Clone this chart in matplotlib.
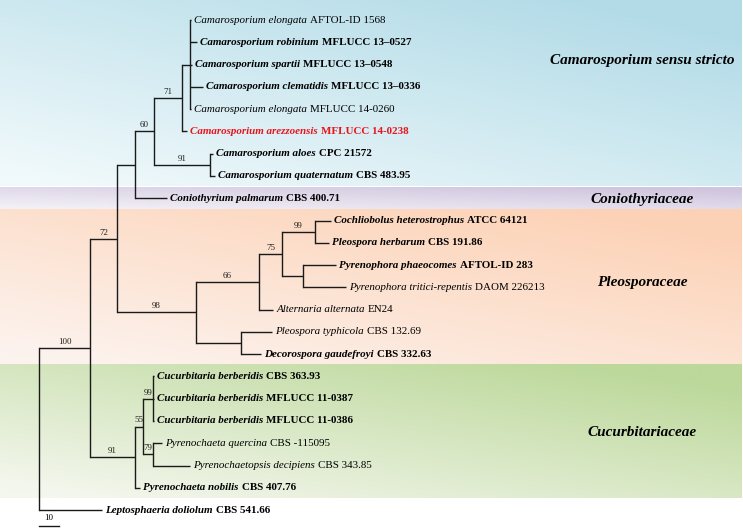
import numpy as np
import matplotlib.pyplot as plt
from matplotlib.colors import to_rgb

plt.rcParams['font.family'] = ['Liberation Serif', 'DejaVu Serif']

# tree (branch lengths, support values as node names)
newick = ("(((((((t1:0.5,t2:3.5,t3:1,t4:6.5,t5:0.5):4,t6:2.5)71:14,(t7:1.5,t8:2.5)91:28)60:9.5,t9:16):9,"
          "((((t10:8,t11:7)99:16.5,(t12:16.5,t13:21.5):10.5)75:11.5,t14:7)66:31.5,(t15:15.5,t16:10):22.5)98:39.5)72:13.5,"
          "(((t17:0.5,t18:0.5,t19:0.5)99:5,(t20:4.5,t21:18.5)79:5)55:4,t22:2.5)91:22.5)100:25.5,t23:31.5);")

species = ['Camarosporium elongata', 'Camarosporium robinium', 'Camarosporium spartii',
           'Camarosporium clematidis', 'Camarosporium elongata', 'Camarosporium arezzoensis',
           'Camarosporium aloes', 'Camarosporium quaternatum', 'Coniothyrium palmarum',
           'Cochliobolus heterostrophus', 'Pleospora herbarum', 'Pyrenophora phaeocomes',
           'Pyrenophora tritici-repentis', 'Alternaria alternata', 'Pleospora typhicola',
           'Decorospora gaudefroyi', 'Cucurbitaria berberidis', 'Cucurbitaria berberidis',
           'Cucurbitaria berberidis', 'Pyrenochaeta quercina', 'Pyrenochaetopsis decipiens',
           'Pyrenochaeta nobilis', 'Leptosphaeria doliolum']
strains = ['AFTOL-ID 1568', 'MFLUCC 13\u20130527', 'MFLUCC 13\u20130548', 'MFLUCC 13\u20130336',
           'MFLUCC 14-0260', 'MFLUCC 14-0238', 'CPC 21572', 'CBS 483.95', 'CBS 400.71',
           'ATCC 64121', 'CBS 191.86', 'AFTOL-ID 283', 'DAOM 226213', 'EN24', 'CBS 132.69',
           'CBS 332.63', 'CBS 363.93', 'MFLUCC 11-0387', 'MFLUCC 11-0386', 'CBS -115095',
           'CBS 343.85', 'CBS 407.76', 'CBS 541.66']
bold = [0, 1, 1, 1, 0, 1, 1, 1, 1, 1, 1, 1, 0, 0, 0, 1, 1, 1, 1, 0, 0, 1, 1]
highlight = 5  # new species, in red

groups = ['Camarosporium sensu stricto', 'Coniothyriaceae', 'Pleosporaceae', 'Cucurbitariaceae']
group_spans = [(-0.9, 7.47), (7.55, 8.5), (8.5, 15.45), (15.45, 21.45)]
group_label_y = [1.8, 8.05, 11.8, 18.5]
group_dark = ['#b2dbe7', '#d0c6df', '#fcd2b6', '#bcd89a']
group_light = ['#f0f9fb', '#f3f0f6', '#fdf3ee', '#f4f7ee']


def parse(s):
    s = s.replace(' ', '')
    pos = 0

    def node():
        nonlocal pos
        kids = []
        if s[pos] == '(':
            pos += 1
            while True:
                kids.append(node())
                if s[pos] == ',':
                    pos += 1
                else:
                    break
            pos += 1
        start = pos
        while s[pos] not in ',();':
            pos += 1
        name, _, bl = s[start:pos].partition(':')
        return {'name': name, 'bl': float(bl or 0), 'kids': kids}
    return node()


tree = parse(newick)
leaves = []


def layout(n, x0):
    n['x'] = x0 + n['bl']
    if n['kids']:
        for k in n['kids']:
            layout(k, n['x'])
        n['y'] = (n['kids'][0]['y'] + n['kids'][-1]['y']) / 2
    else:
        n['y'] = len(leaves)
        leaves.append(n)


layout(tree, 0)

fig = plt.figure(figsize=(7.43, 5.29), dpi=100)
ax = fig.add_axes([0, 0, 1, 1])
ax.set_xlim(-19.5, 352)
ax.set_ylim(22.85, -0.9)
ax.axis('off')

# coloured clade bands with soft gradients
for (y0, y1), dk, lt in zip(group_spans, group_dark, group_light):
    xx = np.linspace(0, 1, 60)[None, :]
    yy = np.linspace(0, 1, 30)[:, None]
    w = np.clip(0.55 * xx + 0.6 * (1 - yy) - 0.05, 0, 1)[..., None]
    img = np.array(to_rgb(lt)) + (np.array(to_rgb(dk)) - np.array(to_rgb(lt))) * w
    ax.imshow(img, extent=(-19.5, 351.5, y1, y0), aspect='auto', interpolation='bilinear', zorder=0)

for g, gy in zip(groups, group_label_y):
    ax.text(301.5, gy, g, fontsize=11, fontweight='bold', style='italic', ha='center', va='center')

lc = '#1a1a1a'


def draw(n, px):
    if px is not None:
        ax.plot([px, n['x']], [n['y'], n['y']], color=lc, lw=1.0, solid_capstyle='butt')
        if n['kids'] and n['name']:
            ax.annotate(n['name'], ((px + n['x']) / 2, n['y']), xytext=(0, 1.5), textcoords='offset points',
                        ha='center', va='bottom', fontsize=6.5, color='#222222')
    if n['kids']:
        ax.plot([n['x'], n['x']], [n['kids'][0]['y'], n['kids'][-1]['y']], color=lc, lw=1.0)
        for k in n['kids']:
            draw(k, n['x'])


draw(tree, None)

for i, lf in enumerate(leaves):
    idx = int(lf['name'][1:]) - 1
    col = '#e8141e' if idx == highlight else 'black'
    wt = 'bold' if bold[idx] else 'normal'
    t1 = ax.annotate(species[idx], (lf['x'], lf['y']), xytext=(2.5, 0), textcoords='offset points',
                     ha='left', va='center', fontsize=7.9, style='italic', fontweight=wt, color=col)
    ax.annotate(strains[idx], (1, 0), xycoords=t1, xytext=(2, 0), textcoords='offset points',
                ha='left', va='bottom', fontsize=7.9, fontweight=wt, color=col)

# scale bar
ax.plot([0, 10], [22.7, 22.7], color=lc, lw=1.0)
ax.text(5, 22.36, '10', fontsize=6.5, ha='center', va='center')

fig.savefig('out.png', dpi=100)
